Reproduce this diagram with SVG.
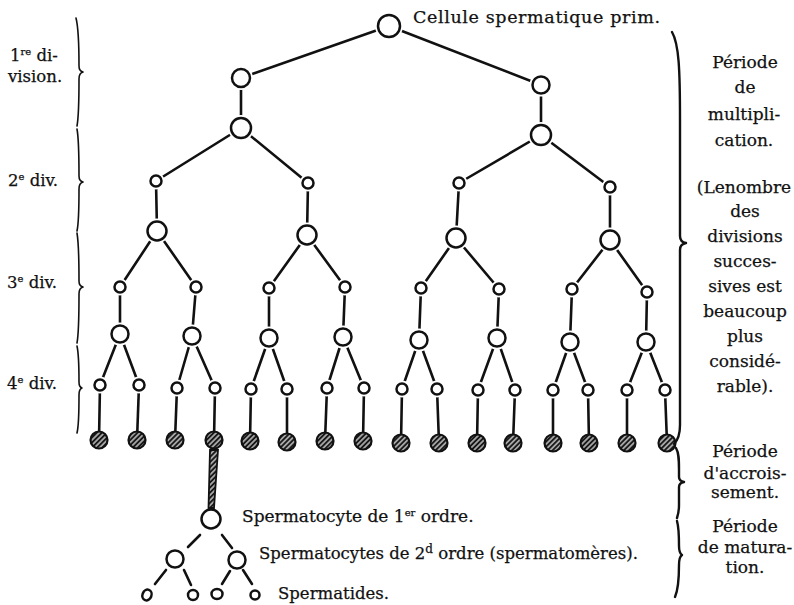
<svg xmlns="http://www.w3.org/2000/svg" width="794" height="605" viewBox="0 0 794 605">
<style>
.ln{stroke:#111;stroke-width:2.6;stroke-linecap:round;fill:none}
.br{stroke:#111;stroke-width:1.6;fill:none;stroke-linecap:round;stroke-linejoin:round}
.brt{stroke:#111;stroke-width:2.4;fill:none;stroke-linecap:round;stroke-linejoin:round}
.halo{fill:#fff;stroke:#fff;stroke-width:6}
.c{fill:#fff;stroke:#111;stroke-width:2.5}
.h{fill:url(#hatch);stroke:#111;stroke-width:2.2}
.t{font-family:"DejaVu Serif","Liberation Serif",serif;font-size:16.5px;fill:#111;stroke:#111;stroke-width:0.25}
.r{font-size:17px;text-anchor:middle}
.sup{font-size:10px}
</style>
<defs>
<pattern id="hatch" width="3.6" height="3.6" patternUnits="userSpaceOnUse" patternTransform="rotate(45)">
<rect width="3.6" height="3.6" fill="#181818"/>
<line x1="1.8" y1="0" x2="1.8" y2="3.6" stroke="#fff" stroke-width="1.1"/>
</pattern>
</defs>
<rect width="794" height="605" fill="#fff"/>

<g id="connectors">
<line class="ln" x1="389" y1="26" x2="241" y2="78"/>
<line class="ln" x1="389" y1="26" x2="541" y2="85"/>
<line class="ln" x1="241" y1="78" x2="241" y2="128"/>
<line class="ln" x1="541" y1="85" x2="541" y2="135"/>
<line class="ln" x1="241" y1="128" x2="156" y2="181"/>
<line class="ln" x1="241" y1="128" x2="308" y2="183"/>
<line class="ln" x1="541" y1="135" x2="459" y2="183"/>
<line class="ln" x1="541" y1="135" x2="610" y2="187"/>
<line class="ln" x1="156" y1="181" x2="157" y2="231"/>
<line class="ln" x1="308" y1="183" x2="307" y2="235"/>
<line class="ln" x1="459" y1="183" x2="456" y2="238"/>
<line class="ln" x1="610" y1="187" x2="610" y2="240"/>
<line class="ln" x1="157" y1="231" x2="120" y2="287"/>
<line class="ln" x1="157" y1="231" x2="196" y2="287"/>
<line class="ln" x1="307" y1="235" x2="269" y2="288"/>
<line class="ln" x1="307" y1="235" x2="345" y2="287"/>
<line class="ln" x1="456" y1="238" x2="421" y2="288"/>
<line class="ln" x1="456" y1="238" x2="499" y2="289"/>
<line class="ln" x1="610" y1="240" x2="572" y2="289"/>
<line class="ln" x1="610" y1="240" x2="647" y2="292"/>
<line class="ln" x1="120" y1="287" x2="120" y2="334"/>
<line class="ln" x1="196" y1="287" x2="192" y2="336"/>
<line class="ln" x1="269" y1="288" x2="269" y2="338"/>
<line class="ln" x1="345" y1="287" x2="343" y2="337"/>
<line class="ln" x1="421" y1="288" x2="419" y2="340"/>
<line class="ln" x1="499" y1="289" x2="497" y2="338"/>
<line class="ln" x1="572" y1="289" x2="570" y2="342"/>
<line class="ln" x1="647" y1="292" x2="646" y2="342"/>
<line class="ln" x1="120" y1="334" x2="100" y2="385"/>
<line class="ln" x1="120" y1="334" x2="139" y2="385"/>
<line class="ln" x1="192" y1="336" x2="177" y2="388"/>
<line class="ln" x1="192" y1="336" x2="215" y2="388"/>
<line class="ln" x1="269" y1="338" x2="251" y2="389"/>
<line class="ln" x1="269" y1="338" x2="287" y2="389"/>
<line class="ln" x1="343" y1="337" x2="327" y2="388"/>
<line class="ln" x1="343" y1="337" x2="364" y2="388"/>
<line class="ln" x1="419" y1="340" x2="402" y2="389"/>
<line class="ln" x1="419" y1="340" x2="437" y2="389"/>
<line class="ln" x1="497" y1="338" x2="478" y2="390"/>
<line class="ln" x1="497" y1="338" x2="515" y2="390"/>
<line class="ln" x1="570" y1="342" x2="553" y2="390"/>
<line class="ln" x1="570" y1="342" x2="588" y2="390"/>
<line class="ln" x1="646" y1="342" x2="627" y2="390"/>
<line class="ln" x1="646" y1="342" x2="665" y2="390"/>
<line class="ln" x1="100" y1="385" x2="99" y2="440"/>
<line class="ln" x1="139" y1="385" x2="137" y2="440"/>
<line class="ln" x1="177" y1="388" x2="175" y2="440"/>
<line class="ln" x1="215" y1="388" x2="214" y2="440"/>
<line class="ln" x1="251" y1="389" x2="250" y2="441"/>
<line class="ln" x1="287" y1="389" x2="287" y2="442"/>
<line class="ln" x1="327" y1="388" x2="325" y2="441"/>
<line class="ln" x1="364" y1="388" x2="363" y2="441"/>
<line class="ln" x1="402" y1="389" x2="401" y2="443"/>
<line class="ln" x1="437" y1="389" x2="439" y2="443"/>
<line class="ln" x1="478" y1="390" x2="477" y2="443"/>
<line class="ln" x1="515" y1="390" x2="513" y2="443"/>
<line class="ln" x1="553" y1="390" x2="553" y2="443"/>
<line class="ln" x1="588" y1="390" x2="589" y2="443"/>
<line class="ln" x1="627" y1="390" x2="627" y2="443"/>
<line class="ln" x1="665" y1="390" x2="667" y2="443"/>
<polygon points="210,450 218,450 214,508 208.5,508" fill="url(#hatch)" stroke="#111" stroke-width="1.8"/>
<line class="ln" x1="200" y1="535" x2="188" y2="547"/>
<line class="ln" x1="222" y1="535" x2="232" y2="548"/>
<line class="ln" x1="166" y1="570" x2="155" y2="584"/>
<line class="ln" x1="184" y1="570" x2="191" y2="585"/>
<line class="ln" x1="230" y1="571" x2="222" y2="584"/>
<line class="ln" x1="243" y1="570" x2="252" y2="584"/>
</g>

<g id="root"><circle class="halo" cx="389" cy="26" r="11"/><circle class="c" cx="389" cy="26" r="11"/></g>
<g id="n1a"><circle class="halo" cx="241" cy="78" r="9"/><circle class="c" cx="241" cy="78" r="9"/></g>
<g id="n1b"><circle class="halo" cx="541" cy="85" r="8.5"/><circle class="c" cx="541" cy="85" r="8.5"/></g>
<g id="n1a2"><circle class="halo" cx="241" cy="128" r="10"/><circle class="c" cx="241" cy="128" r="10"/></g>
<g id="n1b2"><circle class="halo" cx="541" cy="135" r="10"/><circle class="c" cx="541" cy="135" r="10"/></g>

<g id="n2s1"><circle class="halo" cx="156" cy="181" r="5.5"/><circle class="c" cx="156" cy="181" r="5.5"/></g>
<g id="n2s2"><circle class="halo" cx="308" cy="183" r="5.5"/><circle class="c" cx="308" cy="183" r="5.5"/></g>
<g id="n2s3"><circle class="halo" cx="459" cy="183" r="5.5"/><circle class="c" cx="459" cy="183" r="5.5"/></g>
<g id="n2s4"><circle class="halo" cx="610" cy="187" r="5.5"/><circle class="c" cx="610" cy="187" r="5.5"/></g>
<g id="n2b1"><circle class="halo" cx="157" cy="231" r="9.5"/><circle class="c" cx="157" cy="231" r="9.5"/></g>
<g id="n2b2"><circle class="halo" cx="307" cy="235" r="9.5"/><circle class="c" cx="307" cy="235" r="9.5"/></g>
<g id="n2b3"><circle class="halo" cx="456" cy="238" r="9.5"/><circle class="c" cx="456" cy="238" r="9.5"/></g>
<g id="n2b4"><circle class="halo" cx="610" cy="240" r="9.5"/><circle class="c" cx="610" cy="240" r="9.5"/></g>

<g id="n3s1"><circle class="halo" cx="120" cy="287" r="5.5"/><circle class="c" cx="120" cy="287" r="5.5"/></g>
<g id="n3s2"><circle class="halo" cx="196" cy="287" r="5.5"/><circle class="c" cx="196" cy="287" r="5.5"/></g>
<g id="n3s3"><circle class="halo" cx="269" cy="288" r="5.5"/><circle class="c" cx="269" cy="288" r="5.5"/></g>
<g id="n3s4"><circle class="halo" cx="345" cy="287" r="5.5"/><circle class="c" cx="345" cy="287" r="5.5"/></g>
<g id="n3s5"><circle class="halo" cx="421" cy="288" r="5.5"/><circle class="c" cx="421" cy="288" r="5.5"/></g>
<g id="n3s6"><circle class="halo" cx="499" cy="289" r="5.5"/><circle class="c" cx="499" cy="289" r="5.5"/></g>
<g id="n3s7"><circle class="halo" cx="572" cy="289" r="5.5"/><circle class="c" cx="572" cy="289" r="5.5"/></g>
<g id="n3s8"><circle class="halo" cx="647" cy="292" r="5.5"/><circle class="c" cx="647" cy="292" r="5.5"/></g>
<g id="n3b1"><circle class="halo" cx="120" cy="334" r="8.5"/><circle class="c" cx="120" cy="334" r="8.5"/></g>
<g id="n3b2"><circle class="halo" cx="192" cy="336" r="8.5"/><circle class="c" cx="192" cy="336" r="8.5"/></g>
<g id="n3b3"><circle class="halo" cx="269" cy="338" r="8.5"/><circle class="c" cx="269" cy="338" r="8.5"/></g>
<g id="n3b4"><circle class="halo" cx="343" cy="337" r="8.5"/><circle class="c" cx="343" cy="337" r="8.5"/></g>
<g id="n3b5"><circle class="halo" cx="419" cy="340" r="8.5"/><circle class="c" cx="419" cy="340" r="8.5"/></g>
<g id="n3b6"><circle class="halo" cx="497" cy="338" r="8.5"/><circle class="c" cx="497" cy="338" r="8.5"/></g>
<g id="n3b7"><circle class="halo" cx="570" cy="342" r="8.5"/><circle class="c" cx="570" cy="342" r="8.5"/></g>
<g id="n3b8"><circle class="halo" cx="646" cy="342" r="8.5"/><circle class="c" cx="646" cy="342" r="8.5"/></g>

<g id="n4s01"><circle class="halo" cx="100" cy="385" r="5.5"/><circle class="c" cx="100" cy="385" r="5.5"/></g>
<g id="n4s02"><circle class="halo" cx="139" cy="385" r="5.5"/><circle class="c" cx="139" cy="385" r="5.5"/></g>
<g id="n4s03"><circle class="halo" cx="177" cy="388" r="5.5"/><circle class="c" cx="177" cy="388" r="5.5"/></g>
<g id="n4s04"><circle class="halo" cx="215" cy="388" r="5.5"/><circle class="c" cx="215" cy="388" r="5.5"/></g>
<g id="n4s05"><circle class="halo" cx="251" cy="389" r="5.5"/><circle class="c" cx="251" cy="389" r="5.5"/></g>
<g id="n4s06"><circle class="halo" cx="287" cy="389" r="5.5"/><circle class="c" cx="287" cy="389" r="5.5"/></g>
<g id="n4s07"><circle class="halo" cx="327" cy="388" r="5.5"/><circle class="c" cx="327" cy="388" r="5.5"/></g>
<g id="n4s08"><circle class="halo" cx="364" cy="388" r="5.5"/><circle class="c" cx="364" cy="388" r="5.5"/></g>
<g id="n4s09"><circle class="halo" cx="402" cy="389" r="5.5"/><circle class="c" cx="402" cy="389" r="5.5"/></g>
<g id="n4s10"><circle class="halo" cx="437" cy="389" r="5.5"/><circle class="c" cx="437" cy="389" r="5.5"/></g>
<g id="n4s11"><circle class="halo" cx="478" cy="390" r="5.5"/><circle class="c" cx="478" cy="390" r="5.5"/></g>
<g id="n4s12"><circle class="halo" cx="515" cy="390" r="5.5"/><circle class="c" cx="515" cy="390" r="5.5"/></g>
<g id="n4s13"><circle class="halo" cx="553" cy="390" r="5.5"/><circle class="c" cx="553" cy="390" r="5.5"/></g>
<g id="n4s14"><circle class="halo" cx="588" cy="390" r="5.5"/><circle class="c" cx="588" cy="390" r="5.5"/></g>
<g id="n4s15"><circle class="halo" cx="627" cy="390" r="5.5"/><circle class="c" cx="627" cy="390" r="5.5"/></g>
<g id="n4s16"><circle class="halo" cx="665" cy="390" r="5.5"/><circle class="c" cx="665" cy="390" r="5.5"/></g>

<g id="h01"><circle class="h" cx="99" cy="440" r="8.5"/></g>
<g id="h02"><circle class="h" cx="137" cy="440" r="8.5"/></g>
<g id="h03"><circle class="h" cx="175" cy="440" r="8.5"/></g>
<g id="h04"><circle class="h" cx="214" cy="440" r="8.5"/></g>
<g id="h05"><circle class="h" cx="250" cy="441" r="8.5"/></g>
<g id="h06"><circle class="h" cx="287" cy="442" r="8.5"/></g>
<g id="h07"><circle class="h" cx="325" cy="441" r="8.5"/></g>
<g id="h08"><circle class="h" cx="363" cy="441" r="8.5"/></g>
<g id="h09"><circle class="h" cx="401" cy="443" r="8.5"/></g>
<g id="h10"><circle class="h" cx="439" cy="443" r="8.5"/></g>
<g id="h11"><circle class="h" cx="477" cy="443" r="8.5"/></g>
<g id="h12"><circle class="h" cx="513" cy="443" r="8.5"/></g>
<g id="h13"><circle class="h" cx="553" cy="443" r="8.5"/></g>
<g id="h14"><circle class="h" cx="589" cy="443" r="8.5"/></g>
<g id="h15"><circle class="h" cx="627" cy="443" r="8.5"/></g>
<g id="h16"><circle class="h" cx="667" cy="443" r="8.5"/></g>

<g id="sp1"><circle class="c" cx="211" cy="519" r="9.5"/></g>
<g id="sp2a"><circle class="c" cx="175" cy="559" r="8.5"/></g>
<g id="sp2b"><circle class="c" cx="237" cy="560" r="8.5"/></g>
<g id="st1"><ellipse class="c" cx="147" cy="595" rx="4.5" ry="5.5" transform="rotate(20 147 595)"/></g>
<g id="st2"><ellipse class="c" cx="193" cy="595" rx="5" ry="5"/></g>
<g id="st3"><ellipse class="c" cx="217" cy="594" rx="5.5" ry="5"/></g>
<g id="st4"><ellipse class="c" cx="255" cy="595" rx="4.5" ry="4.5"/></g>

<g id="braces-left">
<path class="br" d="M76,18 C79,30 79,55 79,66 Q79,71 83,72 Q79,73 79,79 C79,92 79,115 77,126"/>
<path class="br" d="M77,129 C79,140 79,165 79,176 Q79,181 83,182 Q79,183 79,189 C79,202 79,222 77,231"/>
<path class="br" d="M77,233 C79,245 79,270 79,281 Q79,286 83,287 Q79,288 79,294 C79,310 79,332 77,343"/>
<path class="br" d="M77,346 C79,355 79,372 79,382 Q79,387 82,388 Q79,389 79,395 C79,410 79,425 77,433"/>
</g>
<g id="braces-right">
<path class="brt" d="M672,32 C679,44 680,70 680,120 L680,236 Q680,242 686,243 Q680,244 680,250 L680,425 C680,434 678,440 674,444"/>
<path class="brt" d="M676,448 C679,453 679,460 679,470 L679,477 Q679,481 684,482 Q679,483 679,487 L679,505 C679,511 678,515 677,518"/>
<path class="brt" d="M677,521 C679,528 679,536 679,546 Q679,553 682,555 Q679,557 679,565 C679,580 678,590 675,597"/>
</g>

<g id="labels">
<text class="t" x="413" y="23" textLength="247" lengthAdjust="spacing" style="font-size:17.5px">Cellule spermatique prim.</text>
<text class="t" x="10" y="61">1<tspan class="sup" dy="-6">re</tspan><tspan dy="6"> di-</tspan></text>
<text class="t" x="8" y="82">vision.</text>
<text class="t" x="8" y="186">2<tspan class="sup" dy="-6">e</tspan><tspan dy="6"> div.</tspan></text>
<text class="t" x="7" y="288">3<tspan class="sup" dy="-6">e</tspan><tspan dy="6"> div.</tspan></text>
<text class="t" x="7" y="389">4<tspan class="sup" dy="-6">e</tspan><tspan dy="6"> div.</tspan></text>

<text class="t r" x="745" y="68">Période</text>
<text class="t r" x="745" y="93">de</text>
<text class="t r" x="744" y="120">multipli-</text>
<text class="t r" x="744" y="146">cation.</text>
<text class="t r" x="744" y="193">(Lenombre</text>
<text class="t r" x="745" y="217">des</text>
<text class="t r" x="745" y="242">divisions</text>
<text class="t r" x="745" y="267">succes-</text>
<text class="t r" x="745" y="292">sives est</text>
<text class="t r" x="745" y="317">beaucoup</text>
<text class="t r" x="745" y="342">plus</text>
<text class="t r" x="745" y="367">considé-</text>
<text class="t r" x="745" y="392">rable).</text>
<text class="t r" x="745" y="457">Période</text>
<text class="t r" x="745" y="479">d'accrois-</text>
<text class="t r" x="745" y="498">sement.</text>
<text class="t r" x="745" y="532">Période</text>
<text class="t r" x="745" y="553">de matura-</text>
<text class="t r" x="745" y="573">tion.</text>

<text class="t" x="242" y="522" style="font-size:17px">Spermatocyte de 1<tspan class="sup" dy="-6">er</tspan><tspan dy="6"> ordre.</tspan></text>
<text class="t" x="259" y="559">Spermatocytes de 2<tspan class="sup" dy="-6" style="font-size:12px">d</tspan><tspan dy="6"> ordre (spermatomères).</tspan></text>
<text class="t" x="278" y="599">Spermatides.</text>
</g>
</svg>
